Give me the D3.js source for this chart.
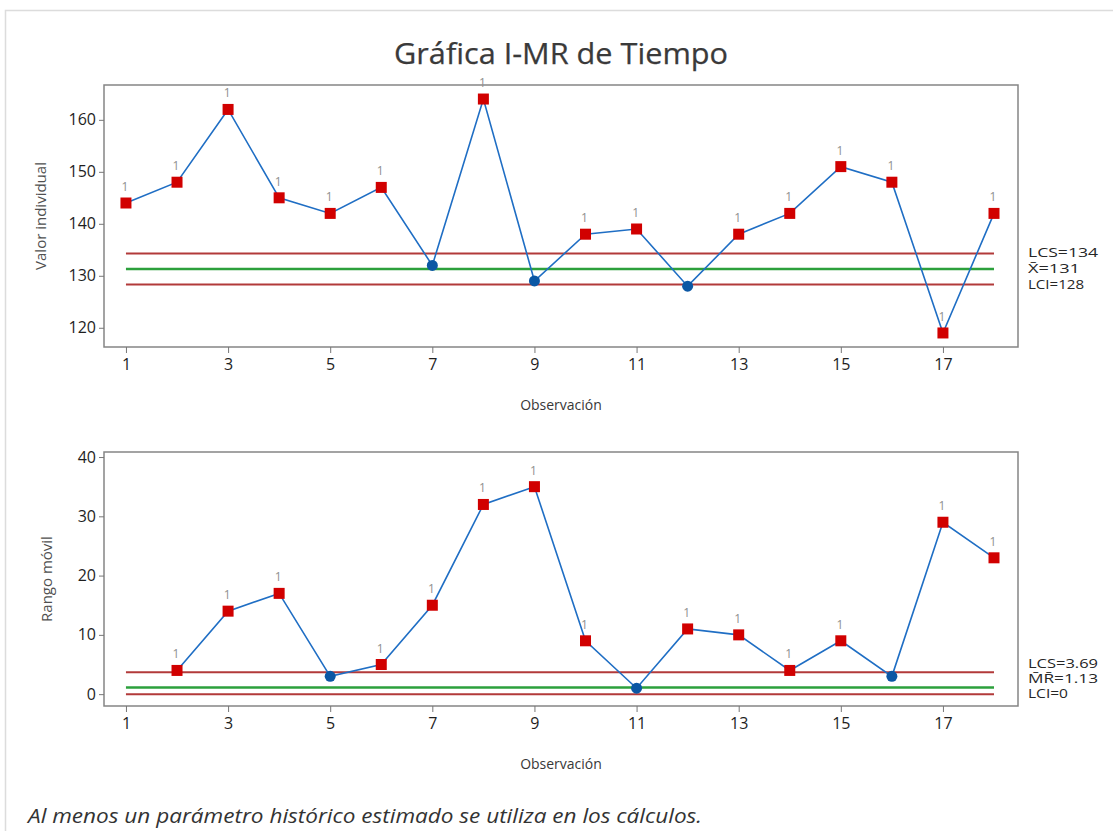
<!DOCTYPE html>
<html>
<head>
<meta charset="utf-8">
<script src="https://cdn.jsdelivr.net/npm/d3@7"></script>
<style>
  body { margin: 0; background: #fff; }
  text { font-family: "Open Sans", "Noto Sans", sans-serif; }
</style>
</head>
<body>
<div class="chart"></div>
<script>
// observations and values
var obs = [1, 2, 3, 4, 5, 6, 7, 8, 9, 10, 11, 12, 13, 14, 15, 16, 17, 18];
var tiempo = [144, 148, 162, 145, 142, 147, 132, 164, 129, 138, 139, 128, 138, 142, 151, 148, 119, 142];
var rangoMovil = [null, 4, 14, 17, 3, 5, 15, 32, 35, 9, 1, 11, 10, 4, 9, 3, 29, 23];

// points that fail test 1 (flag "1")
var flagI = [1, 1, 1, 1, 1, 1, 0, 1, 0, 1, 1, 0, 1, 1, 1, 1, 1, 1];
var flagMR = [0, 1, 1, 1, 0, 1, 1, 1, 1, 1, 0, 1, 1, 1, 1, 0, 1, 1];

// control limits
var limI = { lcs: 134.3, media: 131.3, lci: 128.3 };
var limMR = { lcs: 3.69, media: 1.13, lci: 0 };

var xTicks = [1, 3, 5, 7, 9, 11, 13, 15, 17];
var yTicksI = [120, 130, 140, 150, 160];
var yTicksMR = [0, 10, 20, 30, 40];

var width = 1113, height = 831;

var svg = d3.select(".chart").append("svg")
    .attr("width", width)
    .attr("height", height);

// outer light frame
svg.append("rect")
    .attr("x", 5.5).attr("y", 10.5)
    .attr("width", 1130).attr("height", 840)
    .attr("fill", "none")
    .attr("stroke", "#dcdcdc")
    .attr("stroke-width", 1.5);

svg.append("text")
    .attr("x", 561).attr("y", 64)
    .attr("text-anchor", "middle")
    .attr("font-size", 29)
    .attr("fill", "#3a3a3a")
    .attr("stroke", "#3a3a3a")
    .attr("stroke-width", 0.25)
    .attr("textLength", 334)
    .attr("lengthAdjust", "spacingAndGlyphs")
    .text("Gráfica I-MR de Tiempo");

var x = d3.scaleLinear().domain([0.57, 18.47]).range([104, 1018]);

function drawPanel(opts) {
    var y = d3.scaleLinear().domain(opts.domain).range([opts.bottom, opts.top]);
    var g = svg.append("g");

    // frame
    g.append("rect")
        .attr("x", 104).attr("y", opts.top)
        .attr("width", 1018 - 104).attr("height", opts.bottom - opts.top)
        .attr("fill", "none")
        .attr("stroke", "#858585")
        .attr("stroke-width", 1.5);

    // axes
    var xAxis = d3.axisBottom(x).tickValues(xTicks).tickSize(6).tickSizeOuter(0).tickPadding(6);
    var yAxis = d3.axisLeft(y).tickValues(opts.yTicks).tickSize(5).tickSizeOuter(0).tickPadding(3);

    var gx = g.append("g")
        .attr("transform", `translate(0, ${opts.bottom})`)
        .call(xAxis);
    var gy = g.append("g")
        .attr("transform", "translate(104, 0)")
        .call(yAxis);

    [gx, gy].forEach(function (a) {
        a.select(".domain").remove();
        a.selectAll(".tick line").attr("stroke", "#777");
        a.selectAll(".tick text")
            .attr("font-size", 16)
            .attr("fill", "#1e1e1e")
            .attr("font-family", "'Open Sans', sans-serif");
    });

    g.append("text")
        .attr("x", 561).attr("y", opts.bottom + 63)
        .attr("text-anchor", "middle")
        .attr("font-size", 14)
        .attr("fill", "#383838")
        .text("Observación");

    g.append("text")
        .attr("transform", `translate(${opts.ylabelX}, ${(opts.top + opts.bottom) / 2}) rotate(-90)`)
        .attr("text-anchor", "middle")
        .attr("font-size", 15)
        .attr("fill", "#505050")
        .text(opts.ylabel);

    // limit lines
    var lims = [
        { v: opts.lim.lcs, c: "#b23a3a", w: 2 },
        { v: opts.lim.media, c: "#2ca03c", w: 2.5 },
        { v: opts.lim.lci, c: "#b23a3a", w: 2 }
    ];
    g.selectAll(".lim")
        .data(lims)
        .enter()
        .append("line")
        .attr("x1", x(1)).attr("x2", x(18))
        .attr("y1", d => y(d.v)).attr("y2", d => y(d.v))
        .attr("stroke", d => d.c)
        .attr("stroke-width", d => d.w);

    var pts = obs.map((o, i) => ({ o: o, v: opts.values[i], f: opts.flags[i] }))
        .filter(d => d.v !== null);

    var line = d3.line()
        .x(d => x(d.o))
        .y(d => y(d.v));

    g.append("path")
        .datum(pts)
        .attr("d", line)
        .attr("fill", "none")
        .attr("stroke", "#1f6ec4")
        .attr("stroke-width", 1.6);

    // ok points: blue circles
    g.selectAll(".ok")
        .data(pts.filter(d => !d.f))
        .enter()
        .append("circle")
        .attr("cx", d => x(d.o))
        .attr("cy", d => y(d.v))
        .attr("r", 5.5)
        .attr("fill", "#0b57a4");

    // flagged points: red squares
    g.selectAll(".bad")
        .data(pts.filter(d => d.f))
        .enter()
        .append("rect")
        .attr("x", d => x(d.o) - 5.5)
        .attr("y", d => y(d.v) - 5.5)
        .attr("width", 11).attr("height", 11)
        .attr("fill", "#d10000");

    g.selectAll(".flag")
        .data(pts.filter(d => d.f))
        .enter()
        .append("text")
        .attr("x", d => x(d.o) - 1)
        .attr("y", d => y(d.v) - 12)
        .attr("text-anchor", "middle")
        .attr("font-size", 12)
        .attr("fill", "#909090")
        .text("1");

    // right side labels
    var lab = g.append("g").attr("font-size", 12).attr("fill", "#262626");
    opts.labels.forEach(function (l) {
        lab.append("text")
            .attr("x", 1028).attr("y", l.y)
            .attr("textLength", l.len)
            .attr("lengthAdjust", "spacingAndGlyphs")
            .text(l.text);
    });
}

drawPanel({
    top: 85, bottom: 347,
    domain: [116.3, 166.7],
    yTicks: yTicksI,
    values: tiempo,
    flags: flagI,
    lim: limI,
    ylabel: "Valor individual",
    ylabelX: 46,
    labels: [
        { y: 257, text: "LCS=134", len: 70 },
        { y: 273, text: "X\u0304=131", len: 52 },
        { y: 289, text: "LCI=128", len: 56 }
    ]
});

drawPanel({
    top: 452, bottom: 706,
    domain: [-2.0, 40.85],
    yTicks: yTicksMR,
    values: rangoMovil,
    flags: flagMR,
    lim: limMR,
    ylabel: "Rango móvil",
    ylabelX: 52,
    labels: [
        { y: 668, text: "LCS=3.69", len: 70 },
        { y: 683, text: "M\u0304R\u0304=1.13", len: 70 },
        { y: 698, text: "LCI=0", len: 40 }
    ]
});

svg.append("text")
    .attr("x", 28).attr("y", 823)
    .attr("font-size", 20)
    .attr("font-style", "italic")
    .attr("fill", "#333")
    .attr("textLength", 674)
    .attr("lengthAdjust", "spacingAndGlyphs")
    .text("Al menos un parámetro histórico estimado se utiliza en los cálculos.");
</script>
</body>
</html>
